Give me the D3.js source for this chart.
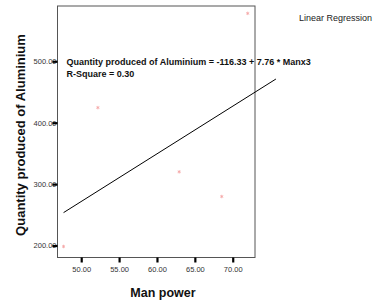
<!DOCTYPE html>
<html><head><meta charset="utf-8">
<script src="https://cdn.jsdelivr.net/npm/d3@7"></script>
<style>body{margin:0;background:#fff;}svg{display:block;}</style>
</head><body>
<script>
const manPower = [52.2, 71.98, 62.93, 68.55, 47.67];
const aluminium = [424.5, 578, 320, 279.8, 198.4];
const xTicks = [50, 55, 60, 65, 70];
const yTicks = [200, 300, 400, 500];
const fitX = [47.67, 75.7];
const intercept = -116.33, slope = 7.76;

const W = 375, H = 302;
const L = 57.5, R = 255, T = 6, B = 257.5;
const svg = d3.select("body").append("svg").attr("width", W).attr("height", H);
const x = d3.scaleLinear().domain([46.87, 72.94]).range([L, R]);
const y = d3.scaleLinear().domain([180.5, 590]).range([B, T]);
const font = "'Liberation Sans', Arial, sans-serif";

svg.append("rect").attr("x", L).attr("y", T).attr("width", R - L).attr("height", B - T)
  .attr("fill", "#fff").attr("stroke", "#555").attr("stroke-width", 1);

// y axis
const ya = svg.append("g").attr("transform", `translate(${L},0)`)
  .call(d3.axisLeft(y).tickValues(yTicks).tickFormat(d3.format(".2f")).tickSize(5).tickPadding(-4));
ya.select(".domain").remove();
ya.selectAll("text").attr("font-family", font).attr("font-size", 7.5).attr("fill", "#333");
ya.selectAll("line").attr("stroke", "#000").attr("stroke-width", 2.2);
ya.selectAll(".tick").each(function(){ d3.select(this).select("line").raise(); });

// x axis
const xa = svg.append("g").attr("transform", `translate(0,${B})`)
  .call(d3.axisBottom(x).tickValues(xTicks).tickFormat(d3.format(".2f")).tickSize(5).tickPadding(4));
xa.select(".domain").remove();
xa.selectAll("text").attr("font-family", font).attr("font-size", 7.5).attr("fill", "#333");
xa.selectAll("line").attr("stroke", "#000").attr("stroke-width", 2.2);

// regression line
svg.append("path").datum(fitX)
  .attr("d", d3.line().x(d => x(d)).y(d => y(intercept + slope * d)))
  .attr("stroke", "#000").attr("stroke-width", 1).attr("fill", "none");

// points (asterisks)
const sym = d3.symbol().type(d3.symbolAsterisk).size(8);
svg.selectAll(".pt").data(manPower).enter().append("path")
  .attr("transform", (d, i) => `translate(${x(d)},${y(aluminium[i])})`)
  .attr("d", sym).attr("stroke", "#f5a8a8").attr("stroke-width", 0.9).attr("fill", "none");

// texts
svg.append("text").attr("x", 66.5).attr("y", 65).attr("font-family", font).attr("font-weight", "bold")
  .attr("font-size", 9).attr("fill", "#111").text("Quantity produced of Aluminium = -116.33 + 7.76 * Manx3");
svg.append("text").attr("x", 66.5).attr("y", 77).attr("font-family", font).attr("font-weight", "bold")
  .attr("font-size", 9).attr("fill", "#111").text("R-Square = 0.30");
svg.append("text").attr("x", 299).attr("y", 21).attr("font-family", font)
  .attr("font-size", 9).attr("fill", "#222").text("Linear Regression");
svg.append("text").attr("x", 163).attr("y", 297).attr("text-anchor", "middle").attr("font-family", font)
  .attr("font-weight", "bold").attr("font-size", 12.5).attr("fill", "#111").text("Man power");
svg.append("text").attr("transform", "translate(25,135) rotate(-90)").attr("text-anchor", "middle")
  .attr("font-family", font).attr("font-weight", "bold").attr("font-size", 13).attr("fill", "#111")
  .text("Quantity produced of Aluminium");
</script>
</body></html>
